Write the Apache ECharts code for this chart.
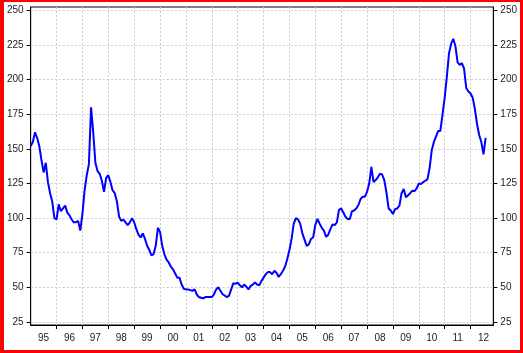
<!DOCTYPE html>
<html>
<head>
<meta charset="utf-8">
<script src="https://cdn.jsdelivr.net/npm/echarts@6/dist/echarts.min.js"></script>
<style>
	html, body { margin: 0; padding: 0; background: #ff0000; }
	#main { position: absolute; left: 4px; top: 2px; width: 516px; height: 348px; background: #fff; }
</style>
</head>
<body>
<div id="main"></div>
<script>
var startYear = 1995;
// monthly values, Jan 1995 .. Aug 2012
var values = [
	152, 155, 162, 158, 152, 142, 133, 140, 126, 118, 112, 100,
	99, 110, 105, 107, 109, 104, 102, 99, 97, 97, 98, 91,
	103, 120, 131, 139, 180, 162, 140, 134, 132, 127, 119, 129,
	131, 126, 120, 118, 112, 101, 98, 99, 97, 95, 97, 100,
	97, 92, 88, 86, 89, 85, 80, 77, 73, 74, 80, 93,
	90, 80, 74, 70, 68, 65, 63, 60, 57, 57, 52, 49,
	48.5, 48.5, 48, 47.5, 48.5, 45, 43, 42.5, 42, 43, 43, 43,
	43, 45, 48.5, 50, 47.5, 45, 44, 43, 44, 48.5, 53, 52.5,
	53.5, 51.5, 50, 52, 50.5, 48.5, 51, 52, 53.5, 52, 51.5, 54.5,
	57, 59.5, 61, 61, 59.5, 62, 60.5, 57.5, 59.5, 62, 65, 70.5,
	77, 85, 96, 100, 99, 96, 89, 84.5, 80, 81, 85, 86,
	95, 99.5, 96, 93, 91, 86.5, 88, 92, 95.5, 95, 97, 106,
	107, 104, 101, 99.3, 99.3, 105, 105.5, 107, 109.5, 113.8, 115.5, 115.5,
	119, 125, 137, 126, 127.5, 129.5, 132, 131.5, 127.5, 118.5, 107, 105.5,
	103, 106.5, 107, 109, 118, 121, 115, 116.5, 118, 119.8, 119.5, 121.5,
	125, 124.6, 126, 127, 128, 136, 149, 155, 159, 163, 163, 175,
	187, 202, 219, 226, 229.5, 224, 212.5, 210.7, 212, 208, 194, 191.5,
	190, 187, 179, 168, 160, 155, 146, 158
];
var yTicks = [25, 50, 75, 100, 125, 150, 175, 200, 225, 250];
var yearTicks = [1996, 1997, 1998, 1999, 2000, 2001, 2002, 2003, 2004, 2005, 2006, 2007, 2008, 2009, 2010, 2011, 2012];
var yearLabels = ['95', '96', '97', '98', '99', '00', '01', '02', '03', '04', '05', '06', '07', '08', '09', '10', '11', '12'];

var main = echarts.init(document.getElementById('main'));

var data = [];
for (var i = 0; i < values.length; i++) {
	data.push([startYear + i / 12, values[i]]);
}

// label positions in the middle of each year
var labelPos = [];
for (var i = 0; i < yearLabels.length; i++) {
	labelPos.push(startYear + i + 0.5);
}

var gridLine = { show: true, lineStyle: { color: '#cdcdcd', type: [2, 2], width: 1 } };
var labelStyle = { color: '#222', fontSize: 10, fontFamily: 'Liberation Sans, Arial, sans-serif' };

function yAxis(pos, split) {
	return {
		type: 'value',
		position: pos,
		min: 22.8,
		max: 252.5,
		axisLine: { show: true, lineStyle: { color: '#000' } },
		axisTick: { show: true, length: 4, lineStyle: { color: '#000' }, customValues: yTicks },
		axisLabel: Object.assign({ margin: 7, customValues: yTicks }, labelStyle),
		splitLine: split ? gridLine : { show: false }
	};
}

option = {
	animation: false,
	grid: {
		left: 25,
		right: 25,
		top: 5,
		bottom: 25,
		show: true,
		borderColor: '#000',
		borderWidth: 1
	},
	xAxis: {
		type: 'value',
		min: 1995,
		max: 2012.88,
		axisLine: { show: true, onZero: false, lineStyle: { color: '#000' } },
		axisTick: { show: true, length: 4, lineStyle: { color: '#000' }, customValues: yearTicks },
		axisLabel: Object.assign({
			margin: 8,
			customValues: labelPos,
			formatter: function (v) {
				return yearLabels[Math.floor(v) - startYear];
			}
		}, labelStyle),
		splitLine: gridLine
	},
	yAxis: [yAxis('left', true), yAxis('right', false)],
	series: [{
		type: 'line',
		data: data,
		showSymbol: false,
		lineStyle: { color: '#0000ff', width: 2 },
		itemStyle: { color: '#0000ff' }
	}]
};
main.setOption(option);
</script>
</body>
</html>
